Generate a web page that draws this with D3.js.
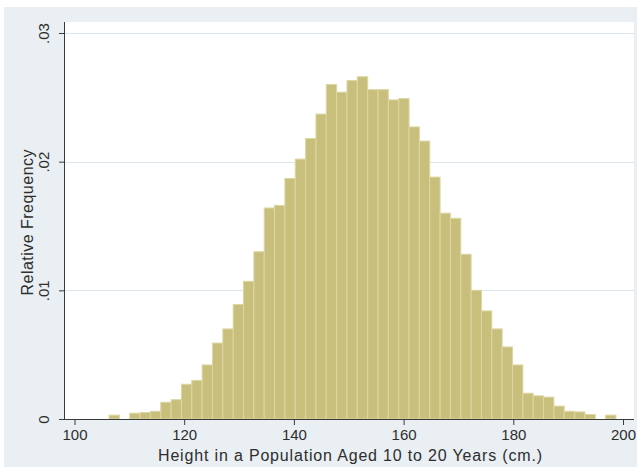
<!DOCTYPE html>
<html>
<head>
<meta charset="utf-8">
<script src="https://cdn.jsdelivr.net/npm/d3@7"></script>
<style>
  html, body { margin: 0; padding: 0; background: #ffffff; }
  svg { display: block; }
  text { font-family: "Liberation Sans", Arial, Helvetica, sans-serif; fill: #2e2e2e; }
</style>
</head>
<body>
<svg id="chart" width="640" height="471"></svg>
<script>
// ---- data ----
const binStart = 106.3;   // lower edge of first bin (cm)
const binWidth = 1.886;   // bin width (cm)
const relFreq = [0.0003, 0, 0.00045, 0.0005, 0.0006, 0.0013, 0.0015, 0.0027, 0.0030, 0.0042,
                 0.0059, 0.0070, 0.0089, 0.0107, 0.0130, 0.0164, 0.0166, 0.0187, 0.0202, 0.0218,
                 0.0237, 0.0260, 0.0254, 0.0263, 0.0266, 0.0256, 0.0256, 0.0248, 0.0249, 0.0227,
                 0.0216, 0.0188, 0.0160, 0.0156, 0.0128, 0.0100, 0.0084, 0.0070, 0.0056, 0.0042,
                 0.0020, 0.0018, 0.0017, 0.0010, 0.0006, 0.00055, 0.00035, 0, 0.0003];
const xTicks = [100, 120, 140, 160, 180, 200];
const yTicks = [0, 0.01, 0.02, 0.03];
const yTickLabels = ["0", ".01", ".02", ".03"];
const xTitle = "Height in a Population Aged 10 to 20 Years (cm.)";
const yTitle = "Relative Frequency";

// ---- layout ----
const svg = d3.select("#chart");
const plot = { left: 65, right: 634, top: 22, bottom: 419 };
const FS = 15;
const TFS = 16;

const x = d3.scaleLinear().domain([100, 200]).range([74.5, 623]);
const y = d3.scaleLinear().domain([0, 0.03]).range([plot.bottom, 33]);

// graph region background
svg.append("rect").attr("x", 4).attr("y", 7).attr("width", 633).attr("height", 460)
  .attr("fill", "#e9eff2");
// plot region
svg.append("rect").attr("x", plot.left).attr("y", plot.top)
  .attr("width", plot.right - plot.left).attr("height", plot.bottom - plot.top)
  .attr("fill", "#ffffff");

// gridlines
svg.append("g").selectAll("line").data(yTicks.filter(d => d > 0)).join("line")
  .attr("x1", plot.left).attr("x2", plot.right)
  .attr("y1", d => Math.round(y(d)) + 0.5).attr("y2", d => Math.round(y(d)) + 0.5)
  .attr("stroke", "#dbe7ec").attr("stroke-width", 1);

// bars
const bins = relFreq.map((v, i) => ({ x0: binStart + i * binWidth, x1: binStart + (i + 1) * binWidth, v }));
svg.append("g").selectAll("rect").data(bins.filter(b => b.v > 0)).join("rect")
  .attr("x", d => x(d.x0))
  .attr("width", d => x(d.x1) - x(d.x0))
  .attr("y", d => y(d.v))
  .attr("height", d => y(0) - y(d.v))
  .attr("fill", "#c9bf7c")
  .attr("stroke", "#ddd6a2")
  .attr("stroke-width", 1);

// x axis
const xAxis = d3.axisBottom(x).tickValues(xTicks).tickSize(6).tickPadding(4).tickFormat(d3.format("d"));
const gx = svg.append("g").attr("transform", `translate(0,${plot.bottom})`).call(xAxis);
gx.select(".domain").attr("d", `M${plot.left},0.5H${plot.right}`).attr("stroke", "#3a3a3a");
gx.selectAll(".tick line").attr("stroke", "#3a3a3a");
gx.selectAll(".tick text").attr("font-size", FS).attr("fill", "#2e2e2e")
  .style("font-family", "'Liberation Sans', Arial, sans-serif");

// y axis
const yAxis = d3.axisLeft(y).tickValues(yTicks).tickSize(6).tickFormat((d, i) => yTickLabels[i]);
const gy = svg.append("g").attr("transform", `translate(${plot.left},0)`).call(yAxis);
gy.select(".domain").attr("d", `M-0.5,${plot.top}V${plot.bottom + 0.5}`).attr("stroke", "#3a3a3a");
gy.selectAll(".tick line").attr("stroke", "#3a3a3a");
gy.selectAll(".tick text")
  .attr("font-size", FS).attr("fill", "#2e2e2e")
  .style("font-family", "'Liberation Sans', Arial, sans-serif")
  .attr("x", null).attr("dy", null)
  .attr("text-anchor", "middle")
  .attr("transform", "translate(-22,0) rotate(-90)")
  .attr("dominant-baseline", "central");

// axis titles
svg.append("text").attr("x", 350).attr("y", 461).attr("text-anchor", "middle")
  .attr("font-size", TFS).attr("textLength", 384).attr("lengthAdjust", "spacing").text(xTitle);
svg.append("text").attr("transform", `translate(33,${(plot.top + plot.bottom) / 2 + 2}) rotate(-90)`)
  .attr("text-anchor", "middle").attr("font-size", TFS)
  .attr("textLength", 146).attr("lengthAdjust", "spacing").text(yTitle);
</script>
</body>
</html>
